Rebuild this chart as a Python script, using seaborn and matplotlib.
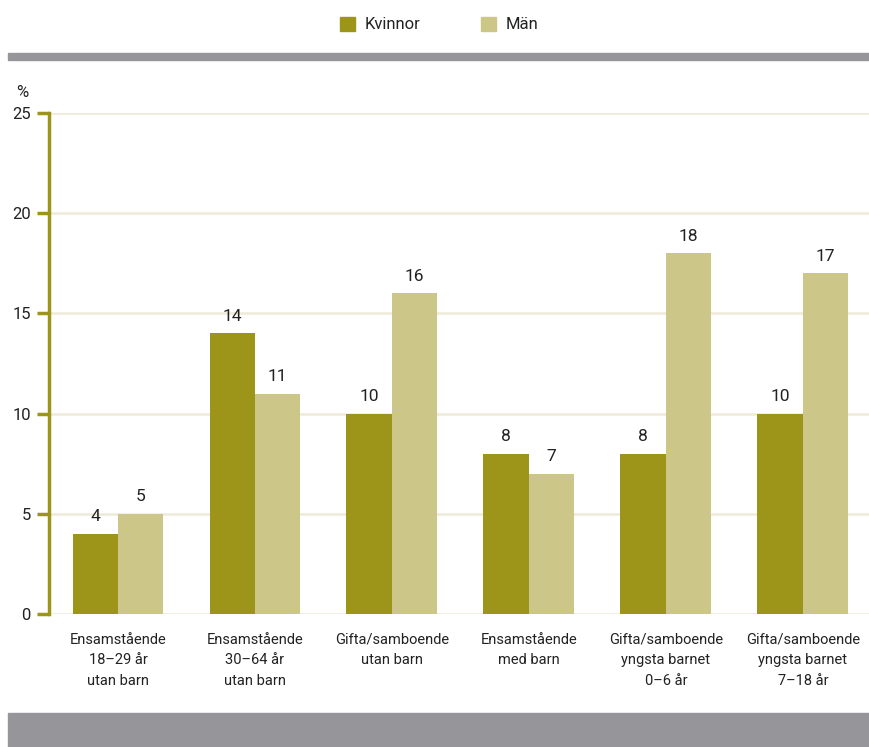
import pandas as pd
import matplotlib.pyplot as plt
import matplotlib.patches as mpatches
import seaborn as sns

categories = ["Ensamstående\n18–29 år\nutan barn",
              "Ensamstående\n30–64 år\nutan barn",
              "Gifta/samboende\nutan barn",
              "Ensamstående\nmed barn",
              "Gifta/samboende\nyngsta barnet\n0–6 år",
              "Gifta/samboende\nyngsta barnet\n7–18 år"]
kvinnor = [4, 14, 10, 8, 8, 10]
man = [5, 11, 16, 7, 18, 17]
series = ["Kvinnor", "Män"]
yticks = [0, 5, 10, 15, 20, 25]

OLIVE = "#9c951a"
LIGHT = "#ccc788"
GRID = "#eeebd9"
GRAY = "#96969a"
TEXT = "#222222"


def main():
    df = pd.DataFrame({
        "kategori": categories * 2,
        "kon": [series[0]] * len(categories) + [series[1]] * len(categories),
        "procent": kvinnor + man,
    })

    sns.set_style("white")
    plt.rcParams['font.family'] = ['Roboto', 'DejaVu Sans']

    fig = plt.figure(figsize=(8.7, 7.47), dpi=100)
    ax = fig.add_axes([0.0563, 0.178, 0.9437, 0.6707])

    sns.barplot(data=df, x="kategori", y="procent", hue="kon",
                palette=[OLIVE, LIGHT], width=0.664, saturation=1,
                linewidth=0, ax=ax, legend=False, zorder=3)

    for cont in ax.containers:
        ax.bar_label(cont, padding=7, fontsize=12.5, color=TEXT)

    ax.set_ylim(0, 25)
    ax.set_xlim(-0.504, 5.49)
    ax.set_yticks(yticks)
    ax.yaxis.grid(True, color=GRID, linewidth=1.8, zorder=0)
    ax.set_axisbelow(True)
    ax.set_xlabel("")
    ax.set_ylabel("")

    for s in ["top", "right", "bottom"]:
        ax.spines[s].set_visible(False)
    ax.spines["left"].set_color(OLIVE)
    ax.spines["left"].set_linewidth(2.5)

    ax.tick_params(axis="y", left=True, length=9, width=2.5, color=OLIVE,
                   labelsize=12, labelcolor=TEXT, pad=4)
    ax.tick_params(axis="x", bottom=False, labelsize=10.5, labelcolor=TEXT, pad=10)
    for lab in ax.get_xticklabels():
        lab.set_linespacing(1.6)
        lab.set_verticalalignment("top")

    ax.text(-0.025, 1.025, "%", transform=ax.transAxes, fontsize=12,
            color=TEXT, ha="right", va="bottom")

    # grey bands above and below the chart
    fig.patches.append(mpatches.Rectangle((0.0092, 0.9197), 0.9908, 0.0094,
                                          transform=fig.transFigure,
                                          color=GRAY, zorder=0))
    fig.patches.append(mpatches.Rectangle((0.0092, 0.0), 0.9908, 0.0455,
                                          transform=fig.transFigure,
                                          color=GRAY, zorder=0))

    handles = [mpatches.Patch(color=OLIVE, label=series[0]),
               mpatches.Patch(color=LIGHT, label=series[1])]
    fig.legend(handles=handles, loc="center", bbox_to_anchor=(0.505, 0.967),
               ncol=2, frameon=False, fontsize=12, handlelength=0.9,
               handleheight=0.9, handletextpad=0.6, columnspacing=3.6,
               labelcolor=TEXT)

    fig.savefig("out.png", dpi=100)


if __name__ == "__main__":
    main()
